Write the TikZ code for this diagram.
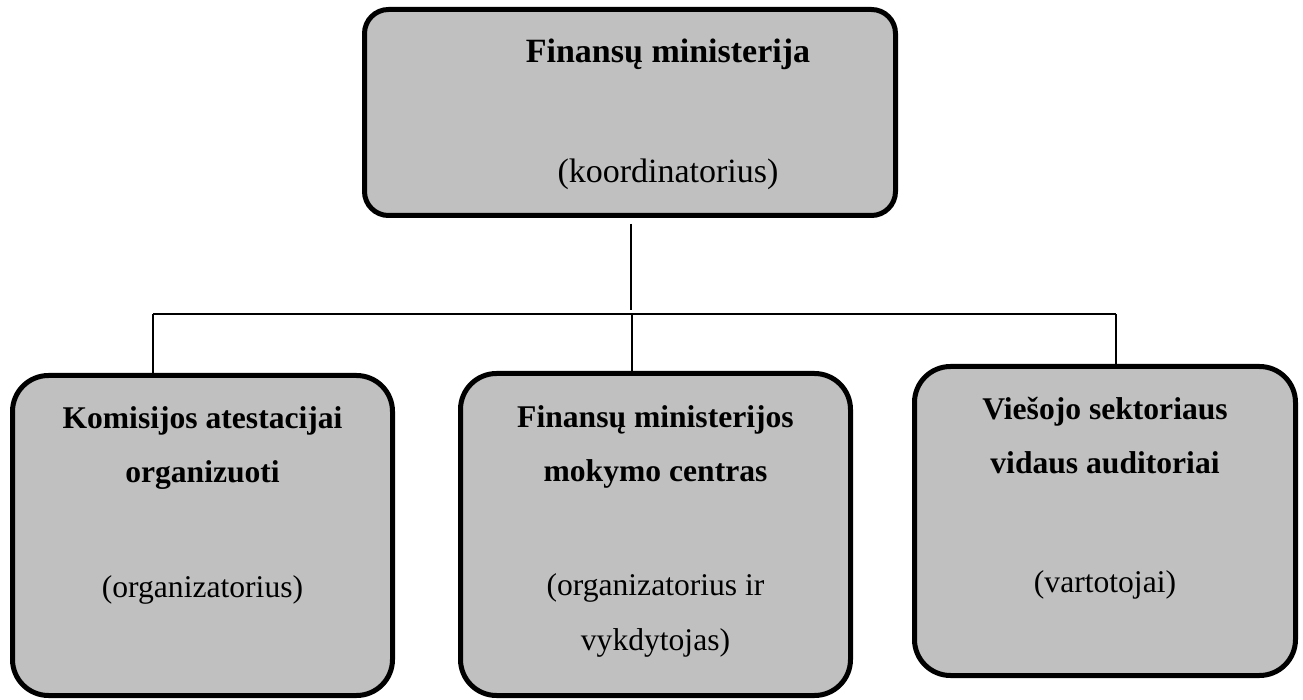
\documentclass[tikz,border=0pt]{standalone}
\usepackage{fontspec}
\setmainfont{Liberation Serif}
\definecolor{unitgray}{HTML}{C0C0C0}

\begin{document}
\begin{tikzpicture}[x=0.5pt, y=-0.5pt,
    unit/.style={draw=black, line width=2.5pt, fill=unitgray, rounded corners=18pt, inner sep=0pt},
    link/.style={line width=1pt, black},
    head/.style={anchor=base, align=center, font=\bfseries\fontsize{15.8}{27.5}\selectfont},
    role/.style={anchor=base, align=center, font=\fontsize{15.8}{27.5}\selectfont}]
% Page frame
\useasboundingbox (0,0) rectangle (1303,700);
% Draw units
\node[unit, rounded corners=12pt, minimum width=265.5pt, minimum height=103pt] (fm) at (630,112.5) {};
\node[unit, minimum width=190pt, minimum height=160pt] (kom) at (202.5,535.5) {};
\node[unit, minimum width=195pt, minimum height=161pt] (mok) at (655.5,534.5) {};
\node[unit, minimum width=190.5pt, minimum height=154.5pt] (vsa) at (1105,521) {};
% Draw texts (base = last line)
\node[head, font=\bfseries\fontsize{17}{30}\selectfont] (fmT) at (668,63) {Finansų ministerija};
\node[role, font=\fontsize{17}{30}\selectfont] (fmR) at (668,183) {(koordinatorius)};
\node[head] (komT) at (202.5,483) {Komisijos atestacijai\\organizuoti};
\node[role] (komR) at (202.5,597) {(organizatorius)};
\node[head] (mokT) at (655.5,482) {Finansų ministerijos\\mokymo centras};
\node[role] (mokR) at (655.5,650) {(organizatorius ir\\vykdytojas)};
\node[head] (vsaT) at (1105,474) {Viešojo sektoriaus\\vidaus auditoriai};
\node[role] (vsaR) at (1105,593) {(vartotojai)};
% Draw links
\coordinate (trunk) at (631,310);
\coordinate (busL) at (153,314);
\coordinate (busM) at (632,314);
\coordinate (busR) at (1116,314);
\draw[link] ([yshift=-3pt]fm.south -| trunk) -- (trunk);
\draw[link] (busL) -- (busR);
\draw[link] (busL) -- (busL |- kom.north);
\draw[link] (busM) -- (busM |- mok.north);
\draw[link] (busR) -- (busR |- vsa.north);
\end{tikzpicture}
\end{document}
